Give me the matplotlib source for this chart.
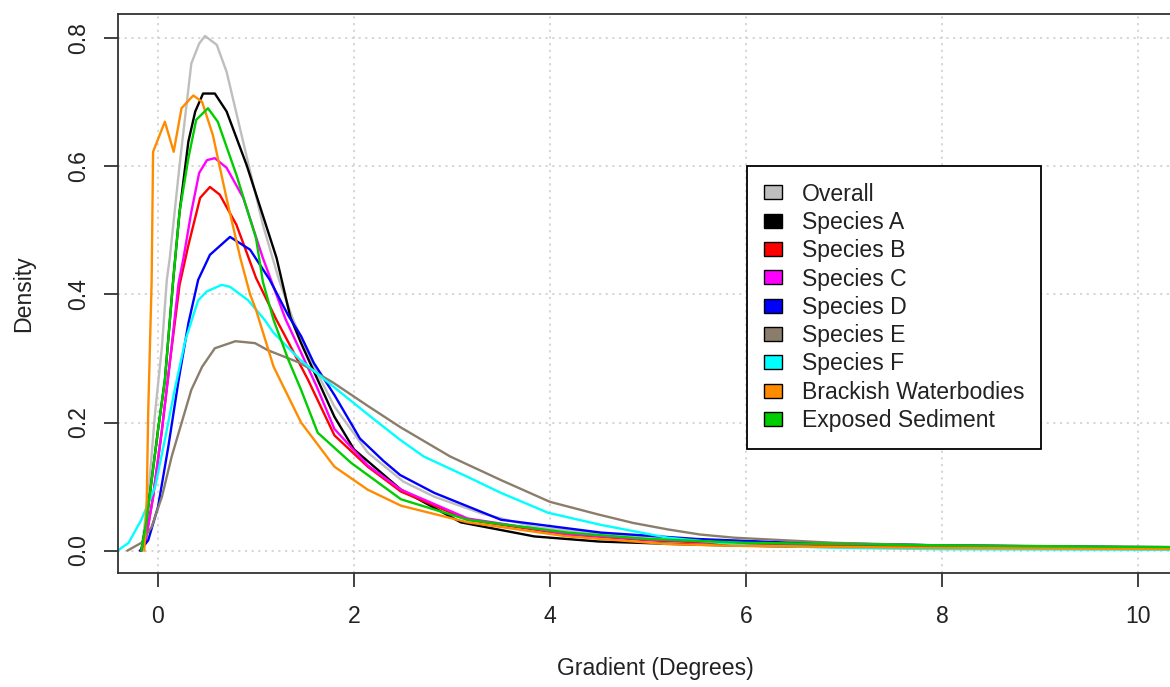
import matplotlib
matplotlib.use("Agg")
import matplotlib.pyplot as plt
from matplotlib.patches import Patch

plt.rcParams['font.family'] = ['Liberation Sans', 'DejaVu Sans']

# ---------------- data ----------------
series_names = ["Overall", "Species A", "Species B", "Species C", "Species D",
                "Species E", "Species F", "Brackish Waterbodies", "Exposed Sediment"]
series_colors = ["#BEBEBE", "#000000", "#FF0000", "#FF00FF", "#0000FF",
                 "#8B7D6B", "#00FFFF", "#FF8C00", "#00CD00"]

overall_x = [-0.17, -0.1, -0.03, 0.04, 0.09, 0.12, 0.22, 0.34, 0.42, 0.48, 0.6, 0.7, 0.87, 1.07, 1.24,
             1.38, 1.6, 1.8, 2.14, 2.5, 2.82, 3.3, 3.84, 4.4, 4.86, 5.5, 6.5, 8.0, 9.0, 10.6]
overall_y = [0.0, 0.084, 0.215, 0.318, 0.423, 0.457, 0.602, 0.761, 0.792, 0.804, 0.79, 0.748, 0.638, 0.509, 0.42,
             0.36, 0.285, 0.225, 0.153, 0.108, 0.084, 0.058, 0.037, 0.028, 0.022, 0.016, 0.012, 0.008, 0.006, 0.005]

spA_x = [-0.17, -0.12, -0.065, 0.0, 0.07, 0.157, 0.22, 0.31, 0.38, 0.46, 0.58, 0.70, 0.905, 1.21, 1.35,
         1.46, 1.8, 2.0, 2.48, 3.09, 3.84, 4.5, 5.5, 6.5, 8.0, 10.6]
spA_y = [0.0, 0.043, 0.11, 0.188, 0.266, 0.426, 0.529, 0.639, 0.686, 0.714, 0.714, 0.686, 0.602, 0.457, 0.365,
         0.324, 0.209, 0.158, 0.095, 0.044, 0.022, 0.014, 0.009, 0.006, 0.004, 0.003]

spB_x = [-0.18, -0.13, -0.05, 0.04, 0.12, 0.22, 0.31, 0.43, 0.53, 0.63, 0.80, 1.0, 1.21, 1.28, 1.53,
         1.8, 2.14, 2.48, 3.16, 4.18, 5.0, 6.0, 8.0, 10.6]
spB_y = [0.0, 0.012, 0.084, 0.188, 0.293, 0.415, 0.477, 0.551, 0.568, 0.556, 0.509, 0.426, 0.36, 0.34, 0.267,
         0.18, 0.131, 0.092, 0.048, 0.025, 0.016, 0.010, 0.006, 0.004]

spC_x = [-0.18, -0.13, -0.05, 0.04, 0.12, 0.21, 0.26, 0.34, 0.42, 0.5, 0.58, 0.70, 0.87, 1.07, 1.3,
         1.62, 1.8, 2.14, 2.48, 3.16, 4.18, 5.0, 6.0, 8.0, 10.6]
spC_y = [0.0, 0.012, 0.084, 0.188, 0.293, 0.418, 0.457, 0.529, 0.59, 0.61, 0.613, 0.598, 0.551, 0.457, 0.362,
         0.256, 0.19, 0.133, 0.095, 0.05, 0.026, 0.017, 0.012, 0.008, 0.005]

spD_x = [-0.18, -0.1, 0.0, 0.105, 0.21, 0.31, 0.41, 0.53, 0.735, 0.94, 1.14, 1.33, 1.46, 1.59, 1.8,
         2.06, 2.3, 2.47, 2.82, 3.5, 4.52, 5.5, 6.5, 8.0, 10.6]
spD_y = [0.0, 0.016, 0.068, 0.162, 0.266, 0.355, 0.423, 0.462, 0.49, 0.47, 0.423, 0.367, 0.335, 0.293, 0.243,
         0.175, 0.14, 0.118, 0.09, 0.048, 0.028, 0.018, 0.012, 0.008, 0.004]

spE_x = [-0.31, -0.17, -0.065, 0.04, 0.14, 0.24, 0.34, 0.45, 0.58, 0.79, 0.99, 1.12, 1.45, 1.79, 2.15,
         2.47, 2.98, 3.5, 4.0, 4.5, 4.85, 5.2, 5.53, 5.88, 6.9, 7.9, 9.0, 10.6]
spE_y = [0.0, 0.012, 0.037, 0.084, 0.147, 0.199, 0.251, 0.287, 0.316, 0.327, 0.324, 0.313, 0.293, 0.262, 0.225,
         0.193, 0.147, 0.11, 0.076, 0.056, 0.043, 0.033, 0.025, 0.02, 0.012, 0.008, 0.006, 0.004]

spF_x = [-0.41, -0.30, -0.17, -0.03, 0.07, 0.17, 0.28, 0.41, 0.5, 0.65, 0.735, 0.92, 1.09, 1.18, 1.45,
         1.79, 2.13, 2.47, 2.71, 3.16, 3.5, 3.98, 4.52, 5.2, 6.0, 7.0, 8.0, 10.6]
spF_y = [0.0, 0.012, 0.048, 0.099, 0.173, 0.251, 0.329, 0.391, 0.405, 0.415, 0.412, 0.391, 0.36, 0.34, 0.298,
         0.256, 0.214, 0.173, 0.147, 0.115, 0.09, 0.059, 0.04, 0.02, 0.008, 0.004, 0.002, 0.001]

brackish_x = [-0.14, -0.115, -0.10, -0.065, -0.05, 0.07, 0.16, 0.24, 0.36, 0.45, 0.56, 0.70, 0.84, 0.94, 1.0,
              1.18, 1.46, 1.8, 2.14, 2.48, 3.16, 4.18, 5.2, 6.0, 8.0, 10.6]
brackish_y = [0.0, 0.079, 0.215, 0.42, 0.623, 0.67, 0.623, 0.691, 0.711, 0.701, 0.649, 0.55, 0.457, 0.40, 0.376,
              0.287, 0.2, 0.131, 0.095, 0.07, 0.044, 0.022, 0.01, 0.007, 0.004, 0.002]

exposed_x = [-0.17, -0.12, -0.065, 0.0, 0.07, 0.157, 0.22, 0.31, 0.39, 0.51, 0.61, 0.80, 1.0, 1.07, 1.18,
             1.33, 1.46, 1.63, 1.97, 2.48, 3.16, 4.18, 5.0, 6.0, 8.0, 10.6]
exposed_y = [0.0, 0.043, 0.11, 0.188, 0.266, 0.426, 0.529, 0.613, 0.673, 0.691, 0.67, 0.587, 0.488, 0.42, 0.36,
             0.298, 0.251, 0.184, 0.137, 0.08, 0.048, 0.028, 0.018, 0.012, 0.008, 0.005]

series_x = [overall_x, spA_x, spB_x, spC_x, spD_x, spE_x, spF_x, brackish_x, exposed_x]
series_y = [overall_y, spA_y, spB_y, spC_y, spD_y, spE_y, spF_y, brackish_y, exposed_y]

x_ticks = [0, 2, 4, 6, 8, 10]
y_ticks = [0.0, 0.2, 0.4, 0.6, 0.8]
y_tick_labels = ["0.0", "0.2", "0.4", "0.6", "0.8"]

# ---------------- figure ----------------
W, H = 1170, 687
fig = plt.figure(figsize=(W / 100, H / 100), dpi=100)
left_px, right_px, top_px, bottom_px = 118, 1193, 14, 573
ax = fig.add_axes([left_px / W, 1 - bottom_px / H, (right_px - left_px) / W, (bottom_px - top_px) / H])

FS = 16.6
x0_px, ppu_x = 158, 98.0
y0_px, ppu_y = 550.5, 640.0
ax.set_xlim((left_px - x0_px) / ppu_x, (right_px - x0_px) / ppu_x)
ax.set_ylim((y0_px - bottom_px) / ppu_y, (y0_px - top_px) / ppu_y)

ax.grid(True, color="#D3D3D3", linestyle=(0, (1.2, 2.5)), linewidth=1.3)
ax.set_axisbelow(True)

for xs, ys, c in zip(series_x, series_y, series_colors):
    ax.plot(xs, ys, color=c, linewidth=1.7, solid_joinstyle="round")

ax.set_xticks(x_ticks)
ax.set_xticklabels([str(t) for t in x_ticks])
ax.set_yticks(y_ticks)
ax.set_yticklabels(y_tick_labels, rotation=90, va="center")
ax.tick_params(axis="both", direction="out", length=9.8, width=1.3, color="#333333",
               labelsize=FS, labelcolor="#222222")
ax.tick_params(axis="x", pad=13)
ax.tick_params(axis="y", pad=10)
for s in ax.spines.values():
    s.set_color("#333333")
    s.set_linewidth(1.3)

ax.set_xlabel("Gradient (Degrees)", fontsize=FS, color="#222222", labelpad=21)
ax.set_ylabel("Density", fontsize=FS, color="#222222", labelpad=23)

handles = [Patch(facecolor=c, edgecolor="black", linewidth=1.0) for c in series_colors]
leg = fig.legend(handles, series_names, loc="upper left",
                 bbox_to_anchor=(747 / W, 1 - 166 / H), bbox_transform=fig.transFigure,
                 fontsize=FS, frameon=True, fancybox=False, framealpha=1.0, edgecolor="black",
                 handlelength=0.8, handleheight=0.55, handletextpad=0.85, labelspacing=0.23,
                 borderpad=0.72, borderaxespad=0.0)
leg.get_frame().set_linewidth(1.3)
for t in leg.get_texts():
    t.set_color("#222222")

fig.savefig("out.png", dpi=100)
